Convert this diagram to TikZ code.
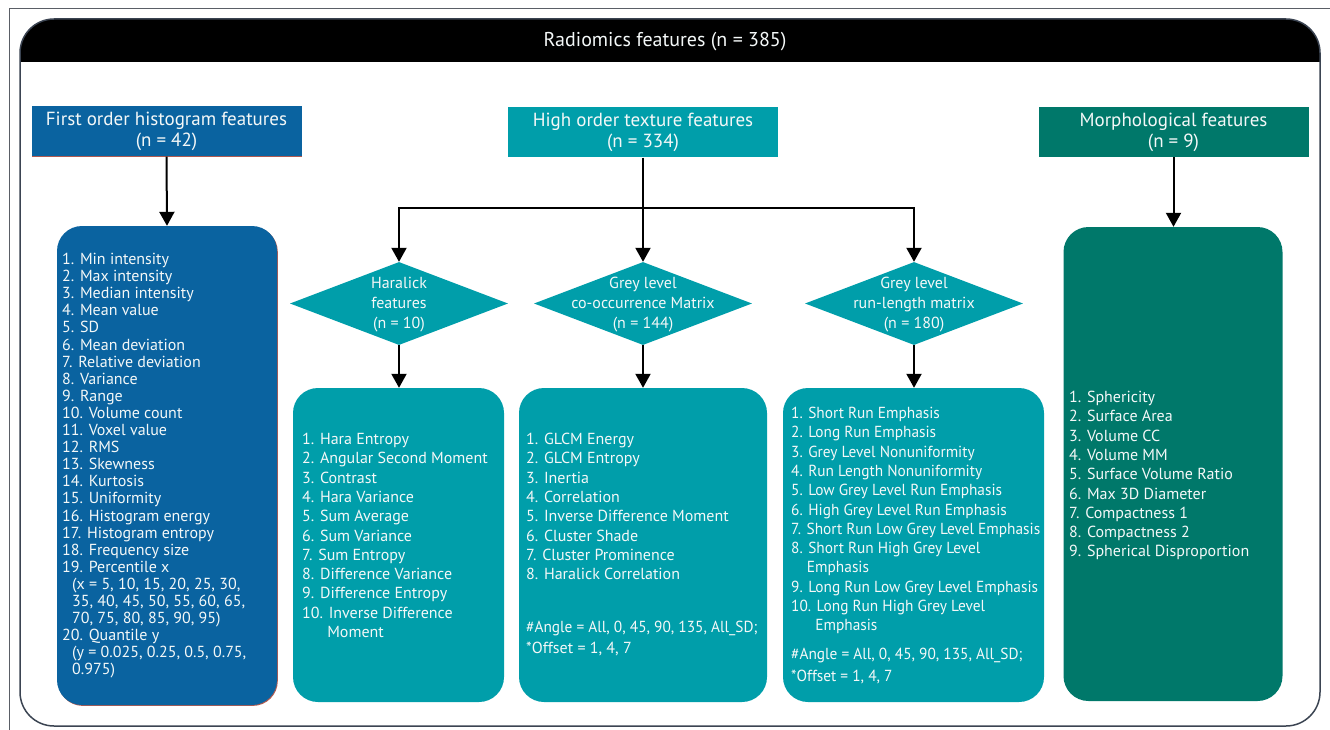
\documentclass[tikz,border=0pt]{standalone}
\usepackage{fontspec}
\setmainfont{PT Sans}
\newfontfamily\narrowsans{PT Sans}[FakeStretch=0.96]
\usetikzlibrary{arrows.meta,shapes.geometric,shadows}
\definecolor{fblue}{HTML}{0A63A0}
\definecolor{fteal}{HTML}{009EAA}
\definecolor{fgreen}{HTML}{00786A}
\definecolor{framec}{HTML}{3B4452}
\definecolor{pagec}{HTML}{5A5E66}
\definecolor{txtw}{HTML}{F4F8F8}
\definecolor{shred}{HTML}{B05A50}
\begin{document}
\begin{tikzpicture}[x=1pt,y=-1pt,
  titlebox/.style={rectangle, inner sep=0, minimum width=270pt, minimum height=50pt},
  listbox/.style={rectangle, rounded corners=25pt, inner sep=0},
  redshadow/.style={general shadow={fill=shred, shadow xshift=0.8pt, shadow yshift=-0.9pt}},
  dia/.style={diamond, fill=fteal, inner sep=0, minimum width=218pt, minimum height=83pt},
  titletext/.style={text=txtw, align=center, font=\fontsize{19}{21}\selectfont, inner sep=0},
  diatext/.style={text=txtw, align=center, font=\fontsize{16}{20}\selectfont, inner sep=0},
  listtext/.style={text=txtw, align=left, font=\fontsize{16}{19.3}\selectfont, inner sep=0, anchor=north west},
  arr/.style={-{Triangle[width=15pt,length=14pt]}, line width=2pt, draw=black},
  conn/.style={line width=2pt, draw=black}
]
\useasboundingbox (0,0) rectangle (1330,730);
% page border
\draw[pagec, line width=1pt] (9,730) -- (9,9) -- (1330,9);
% main frame with header
\begin{scope}
  \clip[rounded corners=34pt] (20,19) rectangle (1320,726);
  \fill[black] (20,19) rectangle (1320,62);
\end{scope}
\draw[framec, line width=1.5pt, rounded corners=34pt] (20,19) rectangle (1320,726);
\node[titletext, font=\fontsize{20}{22}\selectfont] (head) at (665,42) {Radiomics features (n = 385)};

% title boxes
\node[titlebox, fill=fblue, redshadow] (fo) at (166.5,131.5) {};
\node[titletext] (fot) at (fo.center) {First order histogram features\\(n = 42)};
\node[titlebox, fill=fteal] (ho) at (643,132.5) {};
\node[titletext] (hot) at (ho.center) {High order texture features\\(n = 334)};
\node[titlebox, fill=fgreen] (mo) at (1173.5,132) {};
\node[titletext] (mot) at (mo.center) {Morphological features\\(n = 9)};

% list boxes
\node[listbox, fill=fblue, redshadow, minimum width=220pt, minimum height=479pt] (fl) at (167,465.5) {};
\node[listbox, fill=fteal, minimum width=211pt, minimum height=314pt] (hl) at (398.5,545) {};
\node[listbox, fill=fteal, minimum width=248pt, minimum height=314pt] (gl) at (643,545) {};
\node[listbox, fill=fteal, minimum width=261pt, minimum height=314pt] (rl) at (913.5,545) {};
\node[listbox, fill=fgreen, minimum width=219pt, minimum height=474pt] (ml) at (1173,464) {};

% diamonds
\node[dia] (d1) at (399,303.5) {};
\node[dia] (d2) at (643,303.5) {};
\node[dia] (d3) at (914,303.5) {};
\node[diatext] (d1t) at (399,304.5) {Haralick\\features\\(n = 10)};
\node[diatext] (d2t) at (643,304.5) {Grey level\\co-occurrence Matrix\\(n = 144)};
\node[diatext] (d3t) at (914,304.5) {Grey level\\run-length matrix\\(n = 180)};

% connectors
\draw[arr] (fo.south) -- (fl.north);
\draw[arr] (mo.south) -- (mo.south |- ml.north);
\coordinate (jm) at (643,208);
\draw[conn] (ho.south) -- (jm);
\draw[arr] (jm) -| (d1.north);
\draw[arr] (jm) -| (d3.north);
\draw[arr] (jm) -- (d2.north);
\draw[arr] (d1.south) -- (d1.south |- hl.north);
\draw[arr] (d2.south) -- (gl.north);
\draw[arr] (d3.south) -- (d3.south |- rl.north);

% list texts
\node[listtext, font=\fontsize{16}{17.1}\selectfont] (flt) at (62,253) {1. Min intensity\\
2. Max intensity\\
3. Median intensity\\
4. Mean value\\
5. SD\\
6. Mean deviation\\
7. Relative deviation\\
8. Variance\\
9. Range\\
10. Volume count\\
11. Voxel value\\
12. RMS\\
13. Skewness\\
14. Kurtosis\\
15. Uniformity\\
16. Histogram energy\\
17. Histogram entropy\\
18. Frequency size\\
19. Percentile x\\
\hspace*{10pt}(x = 5, 10, 15, 20, 25, 30,\\
\hspace*{10pt}35, 40, 45, 50, 55, 60, 65,\\
\hspace*{10pt}70, 75, 80, 85, 90, 95)\\
20. Quantile y\\
\hspace*{10pt}(y = 0.025, 0.25, 0.5, 0.75,\\
\hspace*{10pt}0.975)};

\node[listtext] (hlt) at (302,433) {1. Hara Entropy\\
2. Angular Second Moment\\
3. Contrast\\
4. Hara Variance\\
5. Sum Average\\
6. Sum Variance\\
7. Sum Entropy\\
8. Difference Variance\\
9. Difference Entropy\\
10. Inverse Difference\\
\hphantom{10.\ }Moment};

\node[listtext] (glt) at (526,433) {1. GLCM Energy\\
2. GLCM Entropy\\
3. Inertia\\
4. Correlation\\
5. Inverse Difference Moment\\
6. Cluster Shade\\
7. Cluster Prominence\\
8. Haralick Correlation\\[33.7pt]
{\narrowsans\#Angle = All, 0, 45, 90, 135, All\_SD;}\\[1.7pt]
*Offset = 1, 4, 7};

\node[listtext, font=\narrowsans\fontsize{16}{19.3}\selectfont] (rlt) at (791,407) {1. Short Run Emphasis\\
2. Long Run Emphasis\\
3. Grey Level Nonuniformity\\
4. Run Length Nonuniformity\\
5. Low Grey Level Run Emphasis\\
6. High Grey Level Run Emphasis\\
7. Short Run Low Grey Level Emphasis\\
8. Short Run High Grey Level\\
\hphantom{8.\ }Emphasis\\
9. Long Run Low Grey Level Emphasis\\
10. Long Run High Grey Level\\
\hphantom{10.\ }Emphasis\\[9.7pt]
\#Angle = All, 0, 45, 90, 135, All\_SD;\\[2.7pt]
*Offset = 1, 4, 7};

\node[listtext] (mlt) at (1069,391) {1. Sphericity\\
2. Surface Area\\
3. Volume CC\\
4. Volume MM\\
5. Surface Volume Ratio\\
6. Max 3D Diameter\\
7. Compactness 1\\
8. Compactness 2\\
9. Spherical Disproportion};
\end{tikzpicture}
\end{document}
